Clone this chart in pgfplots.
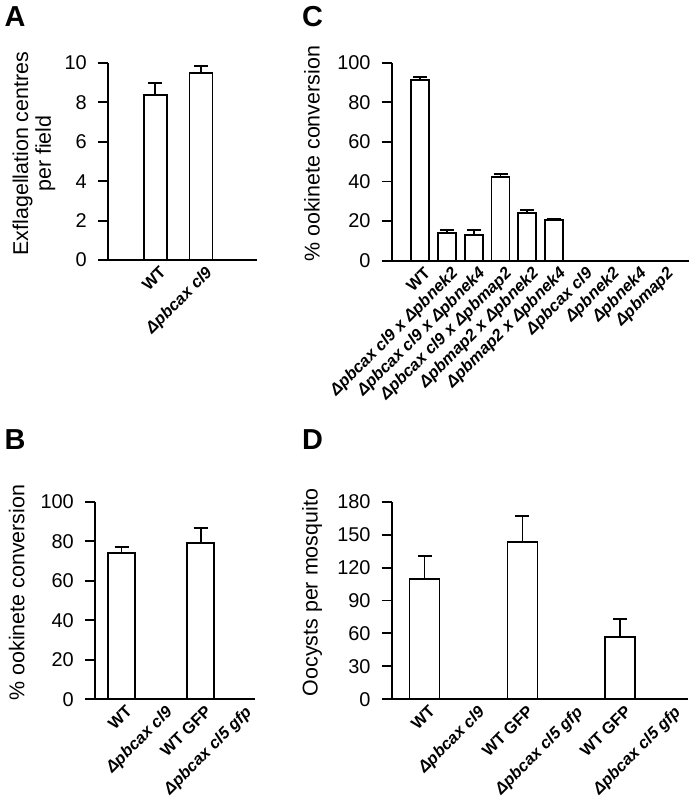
\documentclass[border=0pt]{standalone}
\usepackage{pgfplots}
\pgfplotsset{compat=1.18}
\usepackage{fontspec}
\setmainfont{Liberation Sans}

\newcommand{\gi}[1]{\textbf{\textit{#1}}}
\pgfplotsset{
 panel/.style={
  scale only axis, clip=false,
  axis x line=bottom, axis y line=left,
  axis line style={-, line width=1.9bp},
  ymin=0, enlargelimits=false,
  tick align=outside, major tick length=10bp,
  ytick style={line width=1.9bp, black},
  xtick style={draw=none},
  /pgf/number format/assume math mode=true,
  yticklabel style={font=\fontsize{20}{20}\selectfont, inner sep=2bp, xshift=-9bp},
  xticklabel style={font=\fontsize{16.5}{17}\selectfont\bfseries, rotate=45, anchor=north east, inner sep=1bp, xshift=7bp, yshift=2bp},
  ybar,
 },
 ylab/.style={every axis y label/.style={at={(axis description cs:#1,0.54)}, rotate=90, anchor=center, font=\fontsize{21.5}{23}\selectfont, align=center}},
 barstyle/.style={fill=white, draw=black, line width=1.9bp,
   error bars/.cd, y dir=plus, y explicit,
   error bar style={line width=1.9bp, black},
   error mark options={rotate=90, mark size=7bp, line width=1.9bp, black}},
}

\begin{document}
\begin{tikzpicture}[x=1bp,y=1bp]
\path[use as bounding box] (0,0) rectangle (693,806);

% Panel A
\begin{axis}[panel, at={(108bp,546bp)}, anchor=south west,
  width=149bp, height=197bp, xmin=-0.035, xmax=3.225, ymax=10,
  ytick={0,2,4,6,8,10}, bar width=23bp,
  xtick={1,2}, xticklabels={WT, \gi{Δpbcax cl9}},
  ylab=-0.497, ylabel={Exflagellation centres\\per field}]
\addplot[barstyle] coordinates {(1,8.38) +- (0,0.6) (2,9.5) +- (0,0.33)};
\end{axis}

% Panel C
\begin{axis}[panel, at={(391.7bp,545.3bp)}, anchor=south west,
  width=297.3bp, height=198bp, xmin=-0.04, xmax=11.0, ymax=100,
  ytick={0,20,40,60,80,100}, bar width=18bp,
  xtick={1,...,10},
  xticklabels={WT, \gi{Δpbcax cl9 x Δpbnek2}, \gi{Δpbcax cl9 x Δpbnek4}, \gi{Δpbcax cl9 x Δpbmap2}, \gi{Δpbmap2 x Δpbnek2}, \gi{Δpbmap2 x Δpbnek4}, \gi{Δpbcax cl9}, \gi{Δpbnek2}, \gi{Δpbnek4}, \gi{Δpbmap2}},
  ylab=-0.268, ylabel={\% ookinete conversion}]
\addplot[barstyle] coordinates {(1,91.3) +- (0,1.5) (2,13.8) +- (0,1.7) (3,13.0) +- (0,2.5) (4,42.4) +- (0,1.4) (5,24.2) +- (0,1.4) (6,20.5) +- (0,0.6) (7,0) +- (0,0) (8,0) +- (0,0) (9,0) +- (0,0) (10,0) +- (0,0)};
\end{axis}

% Panel B
\begin{axis}[panel, at={(95bp,106.7bp)}, anchor=south west,
  width=160bp, height=197.6bp, xmin=0.33, xmax=4.37, ymax=100,
  ytick={0,20,40,60,80,100}, bar width=27bp,
  xtick={1,2,3,4}, xticklabels={WT, \gi{Δpbcax cl9}, WT GFP, \gi{Δpbcax cl5 gfp}},
  ylab=-0.49, ylabel={\% ookinete conversion}]
\addplot[barstyle] coordinates {(1,73.9) +- (0,3.0) (2,0) +- (0,0) (3,78.9) +- (0,7.8) (4,0) +- (0,0)};
\end{axis}

% Panel D
\begin{axis}[panel, at={(391.7bp,106.7bp)}, anchor=south west,
  width=296.3bp, height=197.6bp, xmin=0.33, xmax=6.38, ymax=180,
  ytick={0,30,60,90,120,150,180}, bar width=30bp,
  xtick={1,...,6}, xticklabels={WT, \gi{Δpbcax cl9}, WT GFP, \gi{Δpbcax cl5 gfp}, WT GFP, \gi{Δpbcax cl5 gfp}},
  ylab=-0.269, ylabel={Oocysts per mosquito}]
\addplot[barstyle] coordinates {(1,109.6) +- (0,21.2) (2,0) +- (0,0) (3,143.6) +- (0,23.4) (4,0) +- (0,0) (5,56.5) +- (0,16.6) (6,0) +- (0,0)};
\end{axis}

\node[font=\fontsize{29}{29}\selectfont\bfseries] at (15,789) {A};
\node[font=\fontsize{29}{29}\selectfont\bfseries] at (312.5,789) {C};
\node[font=\fontsize{29}{29}\selectfont\bfseries] at (15,366) {B};
\node[font=\fontsize{29}{29}\selectfont\bfseries] at (312.5,366) {D};
\end{tikzpicture}
\end{document}
